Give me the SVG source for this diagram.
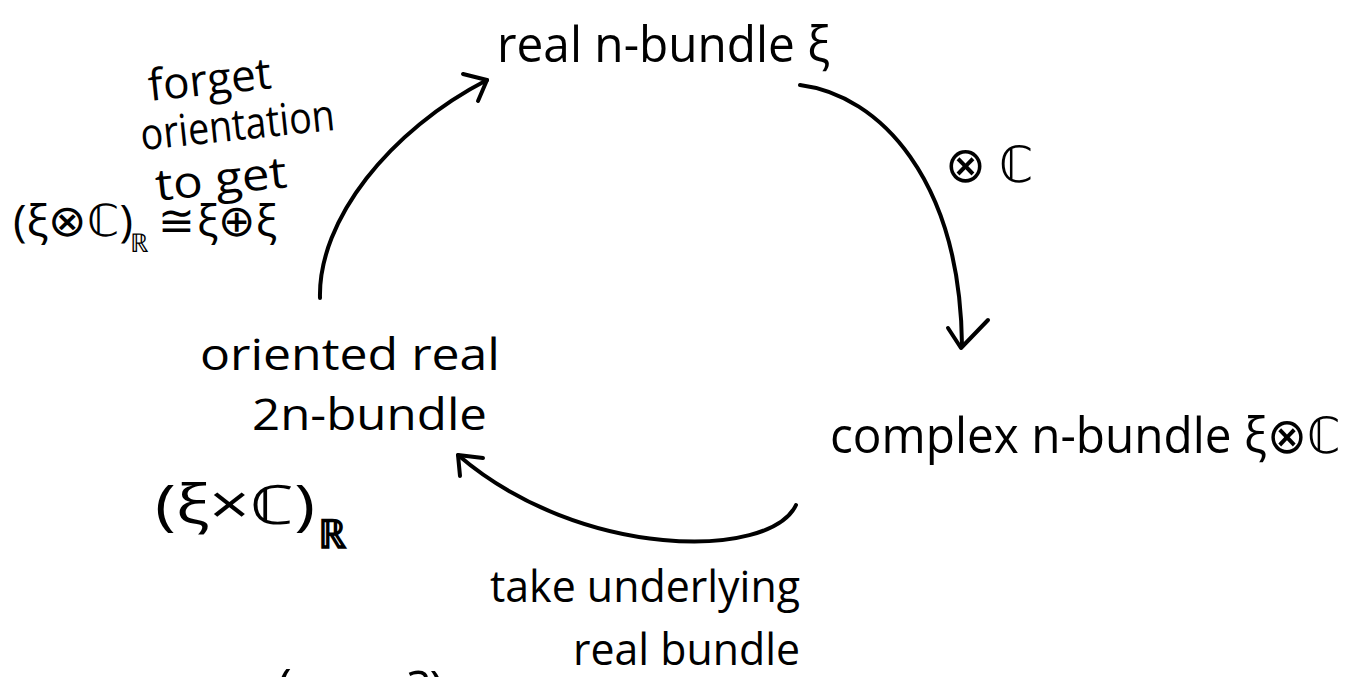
<svg xmlns="http://www.w3.org/2000/svg" width="1363" height="677" viewBox="0 0 1363 677">
<style>
text{font-family:"Open Sans","Liberation Sans",sans-serif;fill:#000;}
.t44{font-size:44px;}
.t50{font-size:50px;}
.c{fill:none;stroke:#000;stroke-width:4;stroke-linecap:round;stroke-linejoin:round;}
</style>
<rect width="1363" height="677" fill="#fff"/>
<g id="connectors">
<path class="c" d="M320,298 C318,220 390,130 487,80"/>
<polyline class="c" points="463,74 487,80 478,101"/>
<path class="c" d="M800,85 C880,95 960,180 962,345"/>
<polyline class="c" points="948,328 961,348 988,320"/>
<path class="c" d="M796,505 C770,560 580,560 458,455"/>
<polyline class="c" points="483,458 458,455 460,476"/>
</g>
<g id="node-real">
<text class="t50" x="497" y="62" textLength="333" lengthAdjust="spacingAndGlyphs">real n-bundle ξ</text>
</g>
<g id="node-complex">
<text class="t50" x="830" y="453" textLength="510" lengthAdjust="spacingAndGlyphs">complex n-bundle ξ⊗ℂ</text>
</g>
<g id="node-oriented">
<text class="t44" x="200" y="370" textLength="300" lengthAdjust="spacingAndGlyphs">oriented real</text>
<text class="t44" x="252" y="430" textLength="235" lengthAdjust="spacingAndGlyphs">2n-bundle</text>
<text style="font-size:54px" x="155" y="524" textLength="160" lengthAdjust="spacingAndGlyphs">(ξ×ℂ)</text>
<text style="font-size:40px;font-weight:bold" x="318" y="548">ℝ</text>
</g>
<g id="label-forget">
<g transform="rotate(-6 238 130)">
<text class="t44" x="215" y="92" text-anchor="middle">forget</text>
<text class="t44" x="238" y="140" text-anchor="middle" textLength="195" lengthAdjust="spacingAndGlyphs">orientation</text>
<text class="t44" x="216" y="192" text-anchor="middle" textLength="132" lengthAdjust="spacingAndGlyphs">to get</text>
</g>
<text class="t44" x="13" y="236" textLength="120" lengthAdjust="spacingAndGlyphs">(ξ⊗ℂ)</text>
<text style="font-size:26px" x="130" y="252">ℝ</text>
<text class="t44" x="158" y="236">≅</text>
<text class="t44" x="197" y="236" textLength="80" lengthAdjust="spacingAndGlyphs">ξ⊕ξ</text>
</g>
<g id="label-tensor">
<text class="t50" x="945" y="182" textLength="88" lengthAdjust="spacingAndGlyphs">⊗ ℂ</text>
</g>
<g id="label-underlying">
<text class="t44" x="490" y="602" textLength="310" lengthAdjust="spacingAndGlyphs">take underlying</text>
<text class="t44" x="573" y="665" textLength="227" lengthAdjust="spacingAndGlyphs">real bundle</text>
</g>
<g id="label-bottom">
<text class="t50" x="277" y="704">(</text>
<text class="t50" x="408" y="706">?)</text>
</g>
</svg>
